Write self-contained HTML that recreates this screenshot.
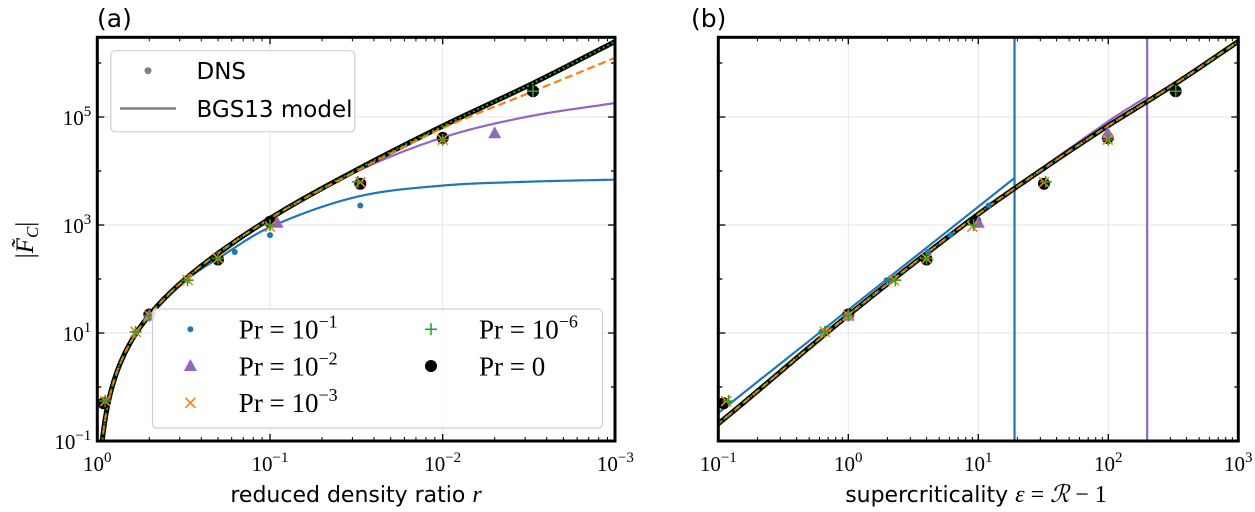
<!DOCTYPE html>
<html><head><meta charset="utf-8"><style>
html,body{margin:0;padding:0;background:#fff;}
svg{display:block;}
.tk{font-family:"Liberation Serif",serif;font-size:21px;fill:#000;}
.sans{font-family:"DejaVu Sans","Liberation Sans",sans-serif;fill:#000;}
</style></head><body>
<svg id="chart" width="1255" height="512" viewBox="0 0 1255 512" xmlns="http://www.w3.org/2000/svg">
<defs>
<clipPath id="clipA"><rect x="97.3" y="37.3" width="518" height="403.7"/></clipPath>
<clipPath id="clipB"><rect x="718.3" y="37.3" width="520" height="403.7"/></clipPath>
</defs>
<g id="root"></g>
</svg>
<script>
// ---- data ----
const modelEps = [0.03, 0.1, 1, 9, 32, 100, 330, 1000];
const modelLogF = [-1.67, -0.68, 1.33, 3.12, 4.05, 4.84, 5.62, 6.40];
const orangeEps = [0.03, 0.1, 1, 9, 32, 100, 330, 1000];
const orangeLogF = [-1.67, -0.68, 1.33, 3.12, 4.03, 4.80, 5.47, 6.10];
const blueR = [0.97, 0.91, 0.8, 0.6, 0.5, 0.3, 0.2, 0.1, 0.0316, 0.01, 0.0033, 0.001];
const blueLogF = [-1.67, -0.68, 0.08, 0.98, 1.33, 2.0, 2.38, 2.96, 3.52, 3.73, 3.80, 3.84];
const purpleR = [0.97, 0.91, 0.8, 0.6, 0.5, 0.3, 0.2, 0.1, 0.0316, 0.01, 0.0033, 0.001];
const purpleLogF = [-1.67, -0.68, 0.08, 0.98, 1.33, 2.03, 2.43, 3.12, 3.99, 4.62, 5.0, 5.26];
const blueBEps = [0.1, 19];
const blueBLogF = [-0.48, 3.87];
const blueAsymEps = 19;
const purpleBEps = [0.1, 1, 10, 100, 199];
const purpleBLogF = [-0.66, 1.35, 3.2, 4.92, 5.38];
const purpleAsymEps = 199;
const blackR = [0.92, 0.5, 0.2, 0.1, 0.03, 0.01, 0.003];
const blackF = [0.5, 22, 230, 1150, 5800, 41000, 300000];
const orangeR = [0.9, 0.6, 0.5, 0.3, 0.2, 0.1, 0.03, 0.01];
const orangeF = [0.55, 10.5, 21, 95, 240, 930, 6200, 38000];
const greenR = [0.9, 0.6, 0.5, 0.3, 0.2, 0.1, 0.031, 0.01, 0.003];
const greenF = [0.55, 10.5, 21, 95, 240, 1000, 6300, 38000, 300000];
const purpleDR = [0.5, 0.091, 0.005];
const purpleDF = [21, 1100, 50000];
const blueDR = [0.6, 0.5, 0.3, 0.16, 0.1, 0.03];
const blueDF = [10.5, 21, 95, 316, 650, 2300];
const blackEps = [0.11, 1, 4, 9.5, 32, 99, 330];
const orangeEpsD = [0.115, 0.66, 1, 2.24, 4, 9, 32, 99];
const greenEpsD = [0.12, 0.66, 1, 2.3, 4, 9.2, 33, 100, 330];
const purpleEpsD = [1, 10, 99];
const blueEpsD = [0.62, 0.95, 1.97, 4.1, 6.1, 12];
const yTickExp = [-1, 1, 3, 5];
const aTickExp = [0, -1, -2, -3];
const bTickExp = [-1, 0, 1, 2, 3];

// ---- scales ----
const TOP = 37.3, BOT = 441, YPD = 54;
const AX0 = 97.3, AX1 = 615, BX0 = 718.3, BX1 = 1238.3, BPD = 130, APD = 172.7;
const yS = lf => 117 + (5 - lf) * YPD;
const xA = r => AX0 + APD * (-Math.log10(r));
const xB = e => BX0 + BPD * (Math.log10(e) + 1);
const NS = "http://www.w3.org/2000/svg";
const root = document.getElementById('root');
function mk(tag, attrs, parent) {
  const el = document.createElementNS(NS, tag);
  for (const k in attrs) el.setAttribute(k, attrs[k]);
  (parent || root).appendChild(el);
  return el;
}
function smooth(xs, ys, x) {
  const n = xs.length;
  if (x <= xs[0]) return ys[0] + (x - xs[0]) * (ys[1] - ys[0]) / (xs[1] - xs[0]);
  if (x >= xs[n - 1]) return ys[n - 1] + (x - xs[n - 1]) * (ys[n - 1] - ys[n - 2]) / (xs[n - 1] - xs[n - 2]);
  let i = 0; while (x > xs[i + 1]) i++;
  const slope = k => {
    if (k === 0) return (ys[1] - ys[0]) / (xs[1] - xs[0]);
    if (k === n - 1) return (ys[n - 1] - ys[n - 2]) / (xs[n - 1] - xs[n - 2]);
    return (ys[k + 1] - ys[k - 1]) / (xs[k + 1] - xs[k - 1]);
  };
  const h = xs[i + 1] - xs[i], t = (x - xs[i]) / h;
  const m0 = slope(i) * h, m1 = slope(i + 1) * h;
  const t2 = t * t, t3 = t2 * t;
  return (2 * t3 - 3 * t2 + 1) * ys[i] + (t3 - 2 * t2 + t) * m0 + (-2 * t3 + 3 * t2) * ys[i + 1] + (t3 - t2) * m1;
}
function poly(pts, attrs, parent, name) {
  const p = mk('polyline', Object.assign({ points: pts.map(p => p[0].toFixed(1) + ',' + p[1].toFixed(1)).join(' '), fill: 'none', 'stroke-linejoin': 'round' }, attrs), parent);
  
  
  return p;
}
const C = { blue: '#1f77b4', orange: '#ff7f0e', green: '#2ca02c', purple: '#9467bd' };

function marker(kind, x, y, parent) {
  let el;
  if (kind === 'black') el = mk('circle', { cx: x, cy: y, r: 6, fill: '#000' }, parent);
  else if (kind === 'blue') el = mk('circle', { cx: x, cy: y, r: 3, fill: C.blue }, parent);
  else if (kind === 'purple') el = mk('path', { d: `M${x},${y - 7}L${x + 6.5},${y + 5}L${x - 6.5},${y + 5}Z`, fill: C.purple }, parent);
  else if (kind === 'orange') el = mk('path', { d: `M${x - 5},${y - 5}L${x + 5},${y + 5}M${x - 5},${y + 5}L${x + 5},${y - 5}`, stroke: C.orange, 'stroke-width': 1.6 }, parent);
  else el = mk('path', { d: `M${x - 6},${y}L${x + 6},${y}M${x},${y - 6}L${x},${y + 6}`, stroke: C.green, 'stroke-width': 1.6 }, parent);
  
  
}

function frame(x0, x1, name) {
  const g = mk('g', {});
  
  
  yTickExp.forEach(e => mk('line', { x1: x0, x2: x1, y1: yS(e), y2: yS(e), stroke: '#e6e6e6', 'stroke-width': 1 }, g));
  return g;
}
function yTicks(x0, x1, labels) {
  const g = mk('g', {});
  
  
  for (let d = -1; d <= 6; d++) {
    const y = yS(d);
    if (y < TOP - 0.5) continue;
    const len = (d % 2 !== 0) ? 7 : 4;
    mk('line', { x1: x0, x2: x0 + len, y1: y, y2: y, stroke: '#000', 'stroke-width': 1.3 }, g);
    mk('line', { x1: x1, x2: x1 - len, y1: y, y2: y, stroke: '#000', 'stroke-width': 1.3 }, g);
  }
  if (labels) yTickExp.forEach(e => {
    const t = mk('text', { x: x0 - 6, y: yS(e) + 8, 'text-anchor': 'end', class: 'tk' }, g);
    
    
    t.innerHTML = '10<tspan dy="-9" font-size="15">' + (e < 0 ? '\u2212' + (-e) : e) + '</tspan>';
  });
}
function xTicks(xf, decades, gridParent, name) {
  const g = mk('g', {});
  
  
  decades.forEach((e, i) => {
    const v = Math.pow(10, e);
    const x = xf(v);
    if (i > 0 && i < decades.length - 1) mk('line', { x1: x, x2: x, y1: TOP, y2: BOT, stroke: '#e6e6e6' }, gridParent);
    mk('line', { x1: x, x2: x, y1: BOT, y2: BOT - 7, stroke: '#000', 'stroke-width': 1.3 }, g);
    mk('line', { x1: x, x2: x, y1: TOP, y2: TOP + 7, stroke: '#000', 'stroke-width': 1.3 }, g);
    if (i < decades.length - 1) {
      const step = decades[1] > decades[0] ? 1 : -1;
      for (let k = 2; k <= 9; k++) {
        const vv = step > 0 ? v * k : v / k;
        const xx = xf(vv);
        mk('line', { x1: xx, x2: xx, y1: BOT, y2: BOT - 4, stroke: '#000', 'stroke-width': 1 }, g);
        mk('line', { x1: xx, x2: xx, y1: TOP, y2: TOP + 4, stroke: '#000', 'stroke-width': 1 }, g);
      }
    }
    const t = mk('text', { x: x, y: BOT + 30, 'text-anchor': 'middle', class: 'tk' }, g);
    
    
    t.innerHTML = '10<tspan dy="-9" font-size="15">' + (e < 0 ? '\u2212' + (-e) : e) + '</tspan>';
  });
}

// ===== Panel A =====
const gridA = frame(AX0, AX1, 'panel-a');
xTicks(xA, aTickExp, gridA, 'x-axis-a');
const pA = mk('g', { 'clip-path': 'url(#clipA)' });


function sampleAeps(xs, ys) {
  const lx = xs.map(Math.log10);
  const pts = [];
  for (let u = 0.004; u <= 3.01; u += 0.004) {
    const r = Math.pow(10, -u); const e = 1 / r - 1;
    pts.push([xA(r), yS(smooth(lx, ys, Math.log10(e)))]);
  }
  return pts;
}
function sampleAr(rs, ys) {
  const us = rs.map(r => -Math.log10(r));
  const pts = [];
  for (let u = 0.004; u <= 3.01; u += 0.004) {
    const r = Math.pow(10, -u);
    let v;
    if (u < us[1]) { const e = 1 / r - 1; v = smooth(modelEps.map(Math.log10), modelLogF, Math.log10(e)); }
    else v = smooth(us, ys, u);
    pts.push([xA(r), yS(v)]);
  }
  return pts;
}
poly(sampleAr(blueR, blueLogF), { stroke: C.blue, 'stroke-width': 2.2 }, pA, 'model-pr-1e-1');
poly(sampleAr(purpleR, purpleLogF), { stroke: C.purple, 'stroke-width': 2.2 }, pA, 'model-pr-1e-2');
poly(sampleAeps(modelEps, modelLogF), { stroke: '#000', 'stroke-width': 5 }, pA, 'model-pr-0');
poly(sampleAeps(orangeEps, orangeLogF), { stroke: C.orange, 'stroke-width': 2.2, 'stroke-dasharray': '8,4' }, pA, 'model-pr-1e-3');
poly(sampleAeps(modelEps, modelLogF), { stroke: C.green, 'stroke-width': 2, 'stroke-dasharray': '2,3' }, pA, 'model-pr-1e-6');
blackR.forEach((r, i) => marker('black', xA(r), yS(Math.log10(blackF[i])), pA));
purpleDR.forEach((r, i) => marker('purple', xA(r), yS(Math.log10(purpleDF[i])), pA));
blueDR.forEach((r, i) => marker('blue', xA(r), yS(Math.log10(blueDF[i])), pA));
orangeR.forEach((r, i) => marker('orange', xA(r), yS(Math.log10(orangeF[i])), pA));
greenR.forEach((r, i) => marker('green', xA(r), yS(Math.log10(greenF[i])), pA));
yTicks(AX0, AX1, true);
let fr = mk('rect', { x: AX0, y: TOP, width: AX1 - AX0, height: BOT - TOP, fill: 'none', stroke: '#000', 'stroke-width': 3 });



// ===== Panel B =====
const gridB = frame(BX0, BX1, 'panel-b');
xTicks(xB, bTickExp, gridB, 'x-axis-b');
const pB = mk('g', { 'clip-path': 'url(#clipB)' });


function sampleB(xs, ys, emax) {
  const lx = xs.map(Math.log10);
  const pts = [];
  for (let le = -1.02; le <= Math.log10(emax) + 0.001; le += 0.01) {
    pts.push([xB(Math.pow(10, le)), yS(smooth(lx, ys, le))]);
  }
  return pts;
}
poly(blueBEps.map((e, i) => [xB(e), yS(blueBLogF[i])]), { stroke: C.blue, 'stroke-width': 2.2 }, pB, 'model-b-pr-1e-1');
let vl = mk('line', { x1: xB(blueAsymEps), x2: xB(blueAsymEps), y1: TOP, y2: BOT, stroke: C.blue, 'stroke-width': 2.2 }, pB);


poly(sampleB(purpleBEps, purpleBLogF, purpleAsymEps), { stroke: C.purple, 'stroke-width': 2.2 }, pB, 'model-b-pr-1e-2');
vl = mk('line', { x1: xB(purpleAsymEps), x2: xB(purpleAsymEps), y1: TOP, y2: BOT, stroke: C.purple, 'stroke-width': 2.2 }, pB);


poly(sampleB(modelEps, modelLogF, 1100), { stroke: '#000', 'stroke-width': 5 }, pB, 'model-b-pr-0');
poly(sampleB(modelEps, modelLogF, 1100), { stroke: C.orange, 'stroke-width': 2.2, 'stroke-dasharray': '8,4' }, pB, 'model-b-pr-1e-3');
poly(sampleB(modelEps, modelLogF, 1100), { stroke: C.green, 'stroke-width': 2, 'stroke-dasharray': '2,3' }, pB, 'model-b-pr-1e-6');
blackEps.forEach((e, i) => marker('black', xB(e), yS(Math.log10(blackF[i])), pB));
purpleEpsD.forEach((e, i) => marker('purple', xB(e), yS(Math.log10(purpleDF[i])), pB));
blueEpsD.forEach((e, i) => marker('blue', xB(e), yS(Math.log10(blueDF[i])), pB));
orangeEpsD.forEach((e, i) => marker('orange', xB(e), yS(Math.log10(orangeF[i])), pB));
greenEpsD.forEach((e, i) => marker('green', xB(e), yS(Math.log10(greenF[i])), pB));
yTicks(BX0, BX1, false);
fr = mk('rect', { x: BX0, y: TOP, width: BX1 - BX0, height: BOT - TOP, fill: 'none', stroke: '#000', 'stroke-width': 3 });


</script>
<script>
(function(){
const NS = "http://www.w3.org/2000/svg";
const svg = document.getElementById('chart');
const g = document.createElementNS(NS, 'g');
svg.appendChild(g);
g.innerHTML = `
<text x="97" y="27" class="sans" font-size="25">(a)</text>
<text x="691" y="27" class="sans" font-size="25">(b)</text>
<text x="356" y="502" class="sans" font-size="22" text-anchor="middle">reduced density ratio <tspan font-family="Liberation Serif" font-style="italic" font-size="24">r</tspan></text>
<text x="976" y="502" class="sans" font-size="22" text-anchor="middle">supercriticality <tspan font-family="Liberation Serif" font-style="italic" font-size="24">ε</tspan><tspan font-family="Liberation Serif" font-size="24"> = </tspan><tspan font-family="Liberation Serif" font-style="italic" font-size="24">ℛ</tspan><tspan font-family="Liberation Serif" font-size="24"> − 1</tspan></text>
<text transform="translate(33,240) rotate(-90)" font-family="Liberation Serif" font-size="25" text-anchor="middle">|<tspan font-style="italic">F̃</tspan><tspan font-style="italic" font-size="17" dy="5">C</tspan><tspan dy="-5">|</tspan></text>
<g>
<rect x="110.8" y="50.7" width="244" height="81" rx="4" fill="#fff" fill-opacity="0.85" stroke="#d0d0d0" stroke-width="1.2"/>
<circle cx="148" cy="70.7" r="3.5" fill="#808080"/>
<text x="196.5" y="79" class="sans" font-size="23">DNS</text>
<line x1="120" x2="176" y1="108.5" y2="108.5" stroke="#808080" stroke-width="2.5"/>
<text x="196.5" y="117" class="sans" font-size="23">BGS13 model</text>
</g>
<g font-family="Liberation Serif" font-size="27">
<rect x="152.5" y="309" width="450" height="119" rx="4" fill="#fff" fill-opacity="0.85" stroke="#d0d0d0" stroke-width="1.2"/>
<circle cx="190.4" cy="329.3" r="3" fill="#1f77b4"/>
<text x="238.8" y="338.5">Pr = 10<tspan dy="-11" font-size="18">−1</tspan></text>
<path d="M190.4,359L197,371L183.8,371Z" fill="#9467bd"/>
<text x="238.8" y="375.5">Pr = 10<tspan dy="-11" font-size="18">−2</tspan></text>
<path d="M185.4,397.8L195.4,407.8M185.4,407.8L195.4,397.8" stroke="#ff7f0e" stroke-width="1.6"/>
<text x="238.8" y="412">Pr = 10<tspan dy="-11" font-size="18">−3</tspan></text>
<path d="M425,329.3L437,329.3M431,323.3L431,335.3" stroke="#2ca02c" stroke-width="1.6"/>
<text x="479" y="338.5">Pr = 10<tspan dy="-11" font-size="18">−6</tspan></text>
<circle cx="431" cy="366" r="6" fill="#000"/>
<text x="479" y="375.5">Pr = 0</text>
</g>`;
})();
</script>
</body></html>
